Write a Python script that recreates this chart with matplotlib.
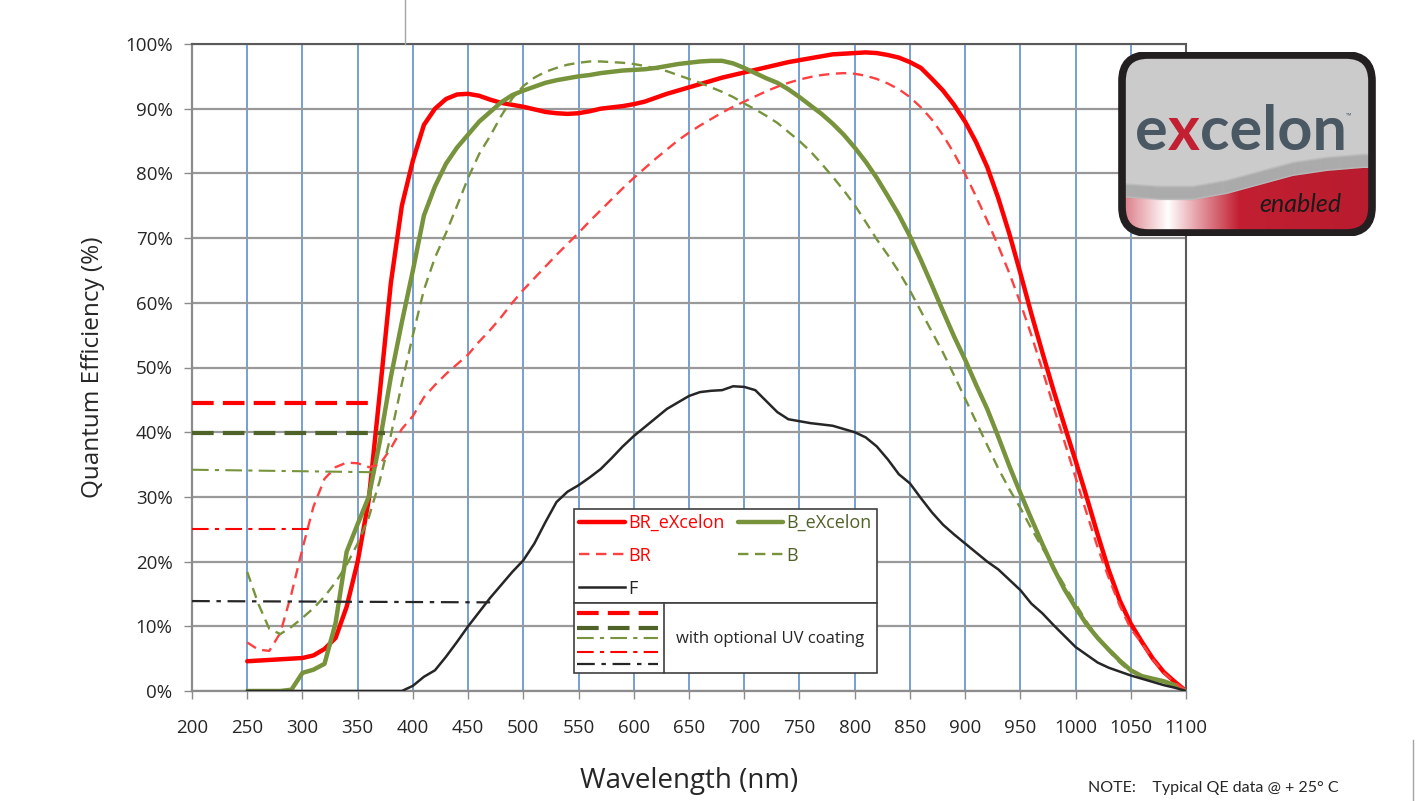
import numpy as np
import matplotlib.pyplot as plt
from matplotlib.patches import FancyBboxPatch, Polygon, Rectangle
from matplotlib.lines import Line2D
from matplotlib.colors import LinearSegmentedColormap
from matplotlib.ticker import MultipleLocator, FuncFormatter

plt.rcParams['font.family'] = ['Open Sans', 'DejaVu Sans']

# wavelength grid (nm) shared by the measured curves
wl = np.arange(250, 1101, 10)

# quantum efficiency in percent
br_excelon = [4.6, 4.7, 4.8, 4.9, 5.0, 5.1, 5.5, 6.5, 8.2, 13.0,
              20.0, 29.5, 46.0, 63.0, 75.0, 82.0, 87.5, 90.0, 91.5, 92.2,
              92.3, 92.0, 91.4, 90.9, 90.6, 90.3, 89.9, 89.5, 89.3, 89.2,
              89.3, 89.6, 90.0, 90.2, 90.4, 90.7, 91.1, 91.7, 92.3, 92.8,
              93.3, 93.8, 94.3, 94.8, 95.2, 95.6, 96.0, 96.4, 96.8, 97.2,
              97.5, 97.8, 98.1, 98.4, 98.5, 98.6, 98.7, 98.6, 98.3, 97.9,
              97.2, 96.3, 94.6, 92.8, 90.6, 88.0, 84.8, 81.0, 76.2, 70.7,
              64.6, 58.3, 52.3, 46.5, 41.0, 35.6, 30.0, 24.2, 18.7, 14.0,
              10.4, 7.6, 5.0, 2.9, 1.4, 0.0]

br = [7.5, 6.4, 6.2, 9.0, 15.0, 22.0, 28.5, 32.8, 34.6, 35.3,
      35.2, 34.6, 35.0, 37.5, 40.5, 42.5, 45.4, 47.3, 49.0, 50.5,
      52.0, 54.0, 55.8, 57.8, 60.0, 62.0, 63.8, 65.6, 67.4, 69.1,
      70.8, 72.6, 74.3, 76.0, 77.7, 79.3, 80.8, 82.3, 83.7, 85.1,
      86.3, 87.4, 88.4, 89.4, 90.3, 91.1, 91.9, 92.7, 93.4, 94.0,
      94.5, 94.9, 95.2, 95.4, 95.5, 95.4, 95.1, 94.6, 93.9, 93.0,
      91.8, 90.2, 88.3, 85.9, 83.1, 79.9, 76.4, 72.7, 68.8, 64.6,
      60.0, 55.0, 49.6, 44.0, 38.5, 33.0, 27.5, 22.2, 17.5, 13.2,
      9.6, 7.4, 4.9, 2.8, 1.3, 0.0]

b_excelon = [0.0, 0.0, 0.0, 0.0, 0.2, 2.8, 3.3, 4.2, 10.5, 21.5,
             25.8, 30.0, 38.5, 48.5, 57.0, 65.0, 73.5, 78.0, 81.5, 84.0,
             86.0, 88.0, 89.5, 91.0, 92.1, 92.8, 93.4, 94.0, 94.4, 94.7,
             95.0, 95.2, 95.5, 95.7, 95.9, 96.0, 96.1, 96.3, 96.6, 96.9,
             97.1, 97.3, 97.4, 97.4, 97.0, 96.3, 95.5, 94.7, 94.0, 93.0,
             91.8, 90.5, 89.2, 87.7, 86.0, 84.0, 81.8, 79.3, 76.5, 73.6,
             70.3, 66.6, 62.7, 58.7, 54.8, 51.2, 47.3, 43.6, 39.3, 34.8,
             30.6, 26.6, 22.7, 19.0, 15.7, 12.9, 10.3, 8.2, 6.4, 4.7,
             3.2, 2.3, 1.9, 1.5, 0.9, 0.0]

# B curve stops at 1050 nm
wl_b = np.arange(250, 1051, 10)
b = [18.4, 13.5, 9.6, 8.8, 9.9, 11.3, 12.8, 14.6, 16.8, 19.5,
     22.8, 26.8, 32.5, 39.5, 47.5, 55.0, 62.0, 67.0, 70.8, 75.0,
     79.3, 83.0, 85.8, 88.9, 91.6, 93.5, 94.8, 95.7, 96.3, 96.8,
     97.1, 97.3, 97.3, 97.2, 97.1, 96.9, 96.6, 96.2, 95.8, 95.2,
     94.6, 94.0, 93.3, 92.6, 91.8, 90.8, 89.9, 88.9, 87.8, 86.4,
     85.0, 83.4, 81.5, 79.5, 77.4, 75.1, 72.5, 69.8, 67.4, 64.8,
     61.9, 58.7, 55.5, 52.3, 48.8, 45.2, 41.6, 38.0, 34.4, 31.2,
     28.3, 25.1, 22.1, 19.2, 16.3, 13.5, 10.7, 8.3, 6.2, 4.4,
     2.9]

f = [0.0, 0.0, 0.0, 0.0, 0.0, 0.0, 0.0, 0.0, 0.0, 0.0,
     0.0, 0.0, 0.0, 0.0, 0.0, 0.8, 2.2, 3.2, 5.3, 7.6,
     10.0, 12.2, 14.4, 16.4, 18.4, 20.2, 22.8, 26.1, 29.2, 30.8,
     31.8, 33.0, 34.3, 36.0, 37.8, 39.4, 40.8, 42.2, 43.6, 44.6,
     45.6, 46.2, 46.4, 46.5, 47.1, 47.0, 46.5, 44.8, 43.1, 42.0,
     41.7, 41.4, 41.2, 41.0, 40.5, 40.0, 39.2, 37.8, 35.8, 33.5,
     32.1, 29.8, 27.6, 25.7, 24.2, 22.8, 21.4, 20.0, 18.8, 17.2,
     15.6, 13.5, 12.0, 10.2, 8.5, 6.8, 5.6, 4.4, 3.6, 3.0,
     2.4, 1.9, 1.4, 0.9, 0.5, 0.0]

# UV-coated sensors, short-wavelength level only
uv_br_excelon_wl, uv_br_excelon = [200, 368], [44.5, 44.5]
uv_b_excelon_wl, uv_b_excelon = [200, 375], [39.9, 39.9]
uv_b_wl, uv_b = [200, 370], [34.2, 33.8]
uv_br_wl, uv_br = [200, 307], [25.0, 25.0]
uv_f_wl, uv_f = [200, 470], [13.9, 13.7]

RED = '#FF0000'
RED_LIGHT = '#FF4040'
GREEN = '#77933C'
GREEN_DARK = '#4F6228'
BLACK = '#262626'

fig = plt.figure(figsize=(14.16, 8.01), dpi=100)
W, H = 1416, 801
ax = fig.add_axes([192 / W, 1 - 691 / H, 994 / W, 647 / H])

# line styles
sty = {
    'br_exc': dict(color=RED, lw=3.2, solid_capstyle='round'),
    'b_exc': dict(color=GREEN, lw=3.2, solid_capstyle='round'),
    'br': dict(color=RED_LIGHT, lw=1.7, dashes=(4.4, 2.8)),
    'b': dict(color=GREEN, lw=1.7, dashes=(4.4, 2.8)),
    'f': dict(color=BLACK, lw=1.8),
    'uv_br_exc': dict(color=RED, lw=3.0, dashes=(5.2, 2.2)),
    'uv_b_exc': dict(color=GREEN_DARK, lw=3.0, dashes=(5.2, 2.2)),
    'uv_b': dict(color=GREEN, lw=1.5, dashes=(8, 3, 2, 3)),
    'uv_br': dict(color=RED, lw=1.5, dashes=(8, 3, 2, 3)),
    'uv_f': dict(color=BLACK, lw=1.6, dashes=(8, 3, 2, 3)),
}

h_br_exc, = ax.plot(wl, br_excelon, zorder=3, **sty['br_exc'])
h_b_exc, = ax.plot(wl, b_excelon, zorder=3.1, **sty['b_exc'])
h_br, = ax.plot(wl, br, zorder=3.2, **sty['br'])
h_b, = ax.plot(wl_b, b, zorder=3.3, **sty['b'])
h_f, = ax.plot(wl, f, zorder=3.4, **sty['f'])

ax.plot(uv_br_excelon_wl, uv_br_excelon, zorder=3.5, **sty['uv_br_exc'])
ax.plot(uv_b_excelon_wl, uv_b_excelon, zorder=3.5, **sty['uv_b_exc'])
ax.plot(uv_b_wl, uv_b, zorder=3.5, **sty['uv_b'])
ax.plot(uv_br_wl, uv_br, zorder=3.5, **sty['uv_br'])
ax.plot(uv_f_wl, uv_f, zorder=3.5, **sty['uv_f'])

ax.set_xlim(200, 1100)
ax.set_ylim(0, 100)
ax.xaxis.set_major_locator(MultipleLocator(50))
ax.yaxis.set_major_locator(MultipleLocator(10))
ax.yaxis.set_major_formatter(FuncFormatter(lambda v, p: f'{v:.0f}%'))

ax.grid(axis='x', color='#6A98D2', lw=1.3)
ax.grid(axis='y', color='#999999', lw=1.6)
ax.set_axisbelow(True)

ax.tick_params(direction='out', length=6, width=1, color='#8C8C8C',
               labelsize=13.5, labelcolor=BLACK)
ax.tick_params(axis='x', pad=14)
ax.tick_params(axis='y', pad=8)

for side in ['left', 'bottom']:
    ax.spines[side].set_color('#8C8C8C')
    ax.spines[side].set_linewidth(1.6)
for side in ['top', 'right']:
    ax.spines[side].set_color('#5A5A5A')
    ax.spines[side].set_linewidth(1.5)

ax.set_xlabel('Wavelength (nm)', fontsize=20, color=BLACK, labelpad=22)
ax.set_ylabel('Quantum Efficiency (%)', fontsize=17.5, color=BLACK, labelpad=14)

# legend for the five curves
x0 = (574 - 192) / 994
y0 = (691 - 603) / 647
leg = ax.legend([h_br_exc, h_br, h_f, h_b_exc, h_b],
                ['BR_eXcelon', 'BR', 'F', 'B_eXcelon', 'B'],
                ncol=2, loc='lower left', mode='expand',
                bbox_to_anchor=(x0, y0, 303 / 994, 91 / 647),
                borderaxespad=0, fancybox=False, edgecolor='#3F3F3F',
                framealpha=1, fontsize=13, handlelength=2.5,
                handletextpad=0.2, labelspacing=0.82, borderpad=0.3,
                columnspacing=0.6)
leg.get_frame().set_linewidth(1.2)
for t, c in zip(leg.get_texts(), [RED, RED, BLACK, GREEN_DARK, GREEN_DARK]):
    t.set_color(c)

# key for the UV-coated variants
key = fig.add_axes([574 / W, 1 - 673 / H, 303 / W, 70 / H])
key.set_xlim(0, 303)
key.set_ylim(70, 0)
key.axis('off')
key.add_patch(Rectangle((0, 0), 303, 70, fc='white', ec='#3F3F3F', lw=1.2, clip_on=False))
key.plot([90, 90], [0, 70], color='#3F3F3F', lw=1.2, clip_on=False)
for yk, name in zip([10, 25, 35, 49, 61], ['uv_br_exc', 'uv_b_exc', 'uv_b', 'uv_br', 'uv_f']):
    key.plot([3, 84], [yk, yk], **sty[name])
key.text(196, 36, 'with optional UV coating', ha='center', va='center',
         fontsize=12, color=BLACK)

# eXcelon badge
logo = fig.add_axes([1118 / W, 1 - 236 / H, 258 / W, 184 / H])
logo.set_xlim(0, 258)
logo.set_ylim(184, 0)
logo.axis('off')

clip = FancyBboxPatch((4, 3), 250, 178, boxstyle='round,pad=0,rounding_size=26',
                      fc='none', ec='none')
logo.add_patch(clip)

band = LinearSegmentedColormap.from_list(
    'band', [(0.0, '#D8707C'), (0.19, '#FFFFFF'), (0.30, '#E6A3AB'),
             (0.47, '#C21F32'), (1.0, '#B81C2E')])
img = logo.imshow(np.linspace(0, 1, 258)[None, :], cmap=band, aspect='auto',
                  extent=(0, 258, 184, 0), zorder=1)
img.set_clip_path(clip)

wave_x = [0, 42, 75, 109, 142, 175, 209, 245, 258]
wave_y = [145, 148, 148, 142, 133, 124, 119, 116, 116]
top = Polygon(list(zip(wave_x, wave_y)) + [(258, 0), (0, 0)],
              closed=True, fc='#CBCBCB', ec='none', zorder=2)
logo.add_patch(top)
top.set_clip_path(clip)
for k in range(1, 14):
    sh, = logo.plot(wave_x, [v - k for v in wave_y], color='black',
                    alpha=0.05, lw=2.2, zorder=2.5)
    sh.set_clip_path(clip)

logo.add_patch(FancyBboxPatch((4, 3), 250, 178, boxstyle='round,pad=0,rounding_size=26',
                              fc='none', ec='#231F20', lw=5.5, zorder=5))

t1 = logo.text(17, 98, 'e', fontsize=44, fontweight='bold', color='#4A5864',
               family=['Lato', 'DejaVu Sans'], va='baseline', ha='left', zorder=4)
t2 = logo.annotate('x', xy=(1, 0), xycoords=t1, va='bottom', fontsize=44,
                   fontweight='bold', color='#C21F32',
                   family=['Lato', 'DejaVu Sans'], zorder=4)
t3 = logo.annotate('celon', xy=(1, 0), xycoords=t2, va='bottom', fontsize=44,
                   fontweight='bold', color='#4A5864',
                   family=['Lato', 'DejaVu Sans'], zorder=4)
logo.annotate('™', xy=(1, 0.72), xycoords=t3, va='bottom', fontsize=5,
              color='#4A5864', zorder=4)
logo.text(182, 153, 'enabled', fontsize=18, style='italic', color='#1A1A1A',
          family=['Lato', 'DejaVu Sans'], ha='center', va='center', zorder=4)

fig.text(1088 / W, 1 - 788 / H, 'NOTE:    Typical QE data @ + 25° C',
         fontsize=11.5, color=BLACK, family=['Lato', 'DejaVu Sans'],
         ha='left', va='center')

# page frame edges
fig.add_artist(Line2D([405 / W, 405 / W], [1 - 44 / H, 1], color='#A6A6A6', lw=1))
fig.add_artist(Line2D([1413 / W, 1413 / W], [0, 1 - 740 / H], color='#A6A6A6', lw=1))

fig.savefig('out.png', dpi=100)
